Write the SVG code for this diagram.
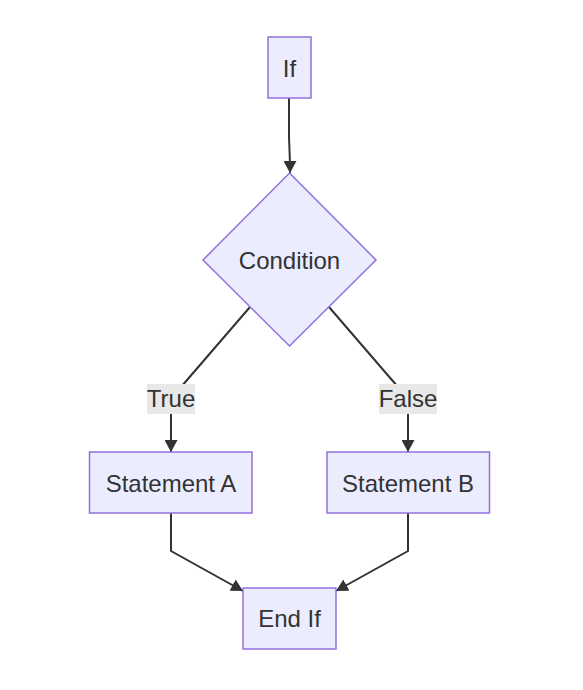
<svg xmlns="http://www.w3.org/2000/svg" width="583" height="690" viewBox="0 0 583 690">
<style>
.node rect,.node polygon{fill:#ECECFF;stroke:#9370DB;stroke-width:1.5}
text{font-family:"Liberation Sans",Arial,sans-serif;font-size:24px;fill:#333333;text-anchor:middle}
.edge{fill:none;stroke:#333333;stroke-width:2}
.lbl rect{fill:#e8e8e8}
</style>
<defs>
<marker id="arrow" markerUnits="userSpaceOnUse" markerWidth="12" markerHeight="13" viewBox="0 0 10 10" refX="10" refY="5" orient="auto" preserveAspectRatio="none">
<path d="M0,0 L10,5 L0,10 z" fill="#333333"/>
</marker>
</defs>
<rect width="583" height="690" fill="#ffffff"/>
<g id="connectors">
<path class="edge" d="M289,98 L289,135 C289,145 290,150 290,173" marker-end="url(#arrow)"/>
<path class="edge" d="M250,307 L175,394 Q171,399 171,406 L171,452" marker-end="url(#arrow)"/>
<path class="edge" d="M329,307 L404,394 Q408,399 408,406 L408,452" marker-end="url(#arrow)"/>
<path class="edge" d="M171,513 L171,551 L243,591" marker-end="url(#arrow)"/>
<path class="edge" d="M408,513 L408,551 L336,591" marker-end="url(#arrow)"/>
</g>
<g id="label-true" class="lbl"><rect x="147" y="384" width="48" height="30"/><text x="171" y="407">True</text></g>
<g id="label-false" class="lbl"><rect x="379" y="384" width="58" height="30"/><text x="408" y="407">False</text></g>
<g id="if" class="node"><rect x="268" y="37" width="43" height="61"/><text x="289.5" y="76.5">If</text></g>
<g id="condition" class="node"><polygon points="289.5,173 376,260 289.5,346 203,260"/><text x="289.5" y="268.5">Condition</text></g>
<g id="statementA" class="node"><rect x="89.5" y="452" width="162.5" height="61"/><text x="171" y="491.5">Statement A</text></g>
<g id="statementB" class="node"><rect x="327" y="452" width="162.5" height="61"/><text x="408" y="491.5">Statement B</text></g>
<g id="endif" class="node"><rect x="243" y="588" width="93" height="61"/><text x="289.5" y="627">End If</text></g>
</svg>
